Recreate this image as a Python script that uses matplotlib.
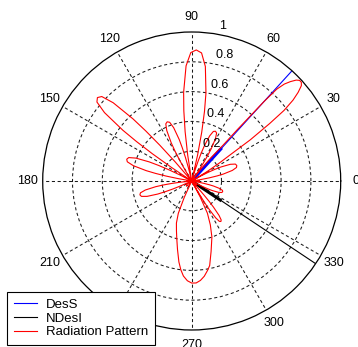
import numpy as np
import matplotlib
matplotlib.use('Agg')
import matplotlib.pyplot as plt

plt.rcParams['font.family'] = ['Liberation Sans', 'DejaVu Sans']
plt.rcParams['font.size'] = 9

# radiation pattern, angle (deg) vs normalised gain, lobe by lobe
pattern_deg = [
    0, 4,
    8, 9.1, 10.2, 11.3, 12.4, 14.6, 16.8, 19, 21.2, 23.4, 25.6, 26.7, 27.8, 28.9, 30,
    31.5, 33, 34.2, 35.1, 36.4, 37.4, 38.6, 39.8, 41, 42, 43, 44, 45.2, 46.3, 47.2,
    47.7, 48.0, 48.4, 48.8, 50.5, 52.5, 54.5,
    55, 55.95, 56.9, 57.85, 58.8, 60.7, 62.6, 64.5, 66.4, 68.3, 70.2, 71.15, 72.1,
    73.05, 74,
    76, 77.2, 78.4, 79.6, 80.8, 83.2, 85.6, 88, 90.4, 92.8, 95.2, 96.4, 97.6, 98.8,
    100,
    103, 103.95, 104.9, 105.85, 106.8, 108.7, 110.6, 112.5, 114.4, 116.3, 118.2,
    119.15, 120.1, 121.05, 122,
    130, 130.85, 131.7, 132.55, 133.4, 135.1, 136.8, 138.5, 140.2, 141.9, 143.6,
    144.45, 145.3, 146.15, 147,
    152, 152.95, 153.9, 154.85, 155.8, 157.7, 159.6, 161.5, 163.4, 165.3, 167.2,
    168.15, 169.1, 170.05, 171,
    177, 183,
    185, 186, 187, 188, 189, 191, 193, 195, 197, 199, 201, 202, 203, 204, 205,
    215, 225, 235,
    244, 245.5, 247.5, 250, 253, 255.5, 258.3, 261, 263, 265, 267.5, 270, 272.5,
    275, 277.5, 280, 282, 285.4, 289.8, 293, 296, 298,
    299, 299.7, 300.35, 301.0, 301.7, 303.05, 304.4, 305.75, 307.1, 308.45, 309.8,
    310.5, 311.15, 311.8, 312.5,
    316, 320, 324, 327,
    331, 332, 333, 334, 335, 337, 339, 341, 343, 345, 347, 348, 349, 350, 351,
    355, 360]
pattern_gain = [
    0.05, 0.03,
    0.0, 0.064, 0.122, 0.173, 0.218, 0.282, 0.314, 0.32, 0.314, 0.282, 0.218,
    0.173, 0.122, 0.064, 0.0,
    0.12, 0.22, 0.31, 0.48, 0.65, 0.78, 0.87, 0.93, 0.975, 0.99, 0.99, 0.975,
    0.94, 0.90, 0.84,
    0.72, 0.58, 0.46, 0.32, 0.20, 0.10, 0.0,
    0.0, 0.074, 0.141, 0.20, 0.252, 0.326, 0.363, 0.37, 0.363, 0.326, 0.252, 0.20,
    0.141, 0.074, 0.0,
    0.0, 0.176, 0.334, 0.475, 0.598, 0.774, 0.862, 0.88, 0.862, 0.774, 0.598,
    0.475, 0.334, 0.176, 0.0,
    0.0, 0.086, 0.163, 0.232, 0.292, 0.378, 0.421, 0.43, 0.421, 0.378, 0.292,
    0.232, 0.163, 0.086, 0.0,
    0.0, 0.169, 0.321, 0.456, 0.575, 0.744, 0.828, 0.845, 0.828, 0.744, 0.575,
    0.456, 0.321, 0.169, 0.0,
    0.0, 0.092, 0.175, 0.248, 0.313, 0.405, 0.451, 0.46, 0.451, 0.405, 0.313,
    0.248, 0.175, 0.092, 0.0,
    0.03, 0.0,
    0.0, 0.072, 0.137, 0.194, 0.245, 0.317, 0.353, 0.36, 0.353, 0.317, 0.245,
    0.194, 0.137, 0.072, 0.0,
    0.04, 0.05, 0.03,
    0.0, 0.12, 0.235, 0.30, 0.35, 0.40, 0.47, 0.55, 0.60, 0.64, 0.67, 0.685,
    0.685, 0.67, 0.645, 0.61, 0.58, 0.49, 0.40, 0.32, 0.24, 0.12,
    0.0, 0.067, 0.127, 0.181, 0.228, 0.295, 0.328, 0.335, 0.328, 0.295, 0.228,
    0.181, 0.127, 0.067, 0.0,
    0.03, 0.04, 0.02, 0.0,
    0.0, 0.044, 0.084, 0.119, 0.15, 0.194, 0.216, 0.22, 0.216, 0.194, 0.15,
    0.119, 0.084, 0.044, 0.0,
    0.04, 0.05]

# desired signal and interference directions
des_deg = 47.7
des_r = [0.0, 0.997]
des_dense_r = [0.0, 0.29]
ndes_deg = 326.3
ndes_r = [0.0, 0.995]
ndes_dense_r = [0.0, 0.23]

ring_vals = [0.2, 0.4, 0.6, 0.8, 1.0]
ring_labels = ['0.2', '0.4', '0.6', '0.8', '1']
spoke_deg = np.arange(0, 360, 30)

fig = plt.figure(figsize=(3.58, 3.47), dpi=100)
ax = fig.add_axes([0.1193, 0.049, 0.8324, 0.8588], projection='polar')

ax.plot(np.deg2rad([des_deg] * 2), des_r, color='blue', lw=0.8, label='DesS')
ax.plot(np.deg2rad([des_deg] * 2), des_dense_r, color='blue', lw=2.2)
ax.plot(np.deg2rad([ndes_deg] * 2), ndes_r, color='black', lw=0.8, label='NDesI')
ax.plot(np.deg2rad([ndes_deg] * 2), ndes_dense_r, color='black', lw=2.2)
ax.plot(np.deg2rad(pattern_deg), pattern_gain, color='red', lw=0.8,
        label='Radiation Pattern')

ax.set_ylim(0, 1)
ax.set_rticks(ring_vals[:-1])
ax.set_thetagrids(spoke_deg)
ax.set_xticklabels([])
ax.set_yticklabels([])
ax.tick_params(length=0)
ax.grid(True, color='0.1', lw=0.75, linestyle=(0, (3, 2.5)))
ax.spines['polar'].set_linewidth(0.9)
ax.spines['polar'].set_color('black')

# angle labels just outside the rim (240 sits under the legend)
for d in spoke_deg:
    if d == 240:
        continue
    ax.text(np.deg2rad(d), 1.1, str(d), ha='center', va='center')

# ring labels along the 82 deg line
for v, s in zip(ring_vals, ring_labels):
    ax.text(np.deg2rad(82), v + 0.01, '  ' + s, ha='left', va='bottom')

leg = ax.legend(loc='lower left', bbox_to_anchor=(7 / 358, 2 / 347),
                bbox_transform=fig.transFigure, fancybox=False, framealpha=1,
                edgecolor='black', borderaxespad=0, handlelength=1.75,
                handletextpad=0.7, labelspacing=0.12, borderpad=0.5,
                fontsize=9.5)
leg.get_frame().set_linewidth(0.8)

fig.savefig('out.png', dpi=100)
